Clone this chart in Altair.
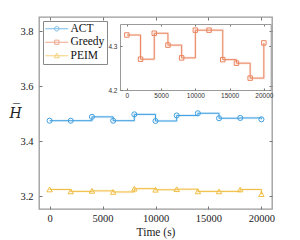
import altair as alt
import pandas as pd

# ---- data ----
times = [0, 2000, 4000, 6000, 8000, 10000, 12000, 14000, 16000, 18000, 20000]
act_values = [3.474, 3.474, 3.488, 3.474, 3.497, 3.473, 3.493, 3.501, 3.483, 3.484, 3.479]
greedy_values = [4.325, 4.270, 4.329, 4.302, 4.273, 4.336, 4.336, 4.269, 4.261, 4.227, 4.307]
peim_values = [3.224, 3.217, 3.219, 3.215, 3.227, 3.223, 3.225, 3.217, 3.217, 3.224, 3.207]
series_names = ["ACT", "Greedy", "PEIM"]
series_colors = ["#3F9FE0", "#E9845E", "#F0BE45"]
x_tick_values = [0, 5000, 10000, 15000, 20000]
y_tick_values = [3.2, 3.4, 3.6, 3.8]
inset_y_tick_values = [4.2, 4.3]


def frame(name, vals):
    return pd.DataFrame({"t": times, "v": vals, "s": name})


act_df = frame("ACT", act_values)
greedy_df = frame("Greedy", greedy_values)
peim_df = frame("PEIM", peim_values)
legend_df = pd.DataFrame({"s": series_names})

W, H = 233, 192
SERIF = "Liberation Serif, Times New Roman, serif"
SANS = "Liberation Sans, Arial, sans-serif"
FRAME = "#9a9a9a"
TICK = "#777777"
TXT = "#222222"

x_main = alt.Scale(domain=[-1000, 21000], nice=False, zero=False)
y_main = alt.Scale(domain=[3.153, 3.851], nice=False, zero=False)
x_inset = alt.Scale(domain=[-1000, 21000], range=[81, 231.7], nice=False, zero=False)
y_inset = alt.Scale(domain=[4.2, 4.35], range=[73, 7], nice=False, zero=False)


def tick_axis(orient, offset, values, size=3):
    return alt.Axis(orient=orient, offset=offset, values=values, labels=False,
                    domain=False, grid=False, ticks=True, tickSize=size,
                    tickColor=TICK, tickWidth=1, title=None)


# main axes
ax_x_labels = alt.Axis(orient="bottom", values=x_tick_values, format="d",
                       labelFont=SERIF, labelFontSize=10.5, labelColor=TXT,
                       labelPadding=4, labelFlush=False, ticks=False, domain=False,
                       grid=False, title="Time (s)", titleFont=SERIF,
                       titleFontSize=11.5, titleFontWeight="normal",
                       titleColor=TXT, titlePadding=3)
ax_y_labels = alt.Axis(orient="left", values=y_tick_values, format=".1f",
                       labelFont=SERIF, labelFontSize=10.5, labelColor=TXT,
                       labelPadding=6, labelFlush=False, ticks=False, domain=False,
                       grid=False, title="H\u0305", titleAngle=0, titleX=-24,
                       titleY=96, titleAlign="center", titleBaseline="middle",
                       titleFont="DejaVu Serif, serif", titleFontStyle="italic",
                       titleFontSize=14, titleFontWeight="normal", titleColor=TXT)

# custom legend symbols: short line with marker
p_line = "M-2.3,0H2.3"
sym_circle = p_line + "M-0.45,0A0.45,0.45,0,1,1,0.45,0A0.45,0.45,0,1,1,-0.45,0Z"
sym_square = p_line + "M-0.42,-0.42H0.42V0.42H-0.42Z"
sym_triangle = p_line + "M0,-0.52L0.52,0.4L-0.52,0.4Z"

legend = alt.Legend(orient="top-left", title=None, offset=4, padding=2,
                    strokeColor="#888888", fillColor="white",
                    labelFont=SERIF, labelFontSize=11.5, labelColor="#111111",
                    symbolSize=100, symbolStrokeWidth=1,
                    symbolFillColor="transparent", symbolOffset=6,
                    labelOffset=8, rowPadding=0.5)

color_scale = alt.Scale(domain=series_names, range=series_colors)
shape_scale = alt.Scale(domain=series_names, range=[sym_circle, sym_square, sym_triangle])


def series_layers(df, color, shape, xs, ys, xa=None, ya=None, xa2=None, ya2=None,
                  xa3=None, ya3=None, msize=26):
    shadow = alt.Chart(df).mark_line(interpolate="step-after", color=color,
                                     strokeWidth=2.6, opacity=0.16).encode(
        x=alt.X("t:Q", scale=xs, axis=xa3),
        y=alt.Y("v:Q", scale=ys, axis=ya3),
    )
    line = alt.Chart(df).mark_line(interpolate="step-after", color=color,
                                   strokeWidth=1).encode(
        x=alt.X("t:Q", scale=xs, axis=xa),
        y=alt.Y("v:Q", scale=ys, axis=ya),
    )
    pts = alt.Chart(df).mark_point(shape=shape, filled=False, color=color,
                                   strokeWidth=1, size=msize, opacity=1).encode(
        x=alt.X("t:Q", scale=xs, axis=xa2),
        y=alt.Y("v:Q", scale=ys, axis=ya2),
    )
    return [shadow, line, pts]


act_layers = series_layers(
    act_df, series_colors[0], "circle", x_main, y_main,
    xa=ax_x_labels, ya=ax_y_labels,
    xa2=tick_axis("top", -H, x_tick_values), ya2=tick_axis("right", -W, y_tick_values),
    xa3=tick_axis("bottom", -H, x_tick_values), ya3=tick_axis("left", -W, y_tick_values),
)
peim_layers = series_layers(peim_df, series_colors[2], "triangle-up", x_main, y_main,
                            msize=30)

legend_layer = alt.Chart(legend_df).mark_point(filled=False, strokeWidth=1).encode(
    color=alt.Color("s:N", scale=color_scale, legend=legend),
    shape=alt.Shape("s:N", scale=shape_scale, legend=legend),
).transform_filter("false")

main = alt.layer(*act_layers, *peim_layers, legend_layer).resolve_axis(
    x="independent", y="independent")

# inset axes
ix_labels = alt.Axis(orient="bottom", offset=-(H - 73), values=x_tick_values,
                     format="d", labelFont=SANS, labelFontSize=6.5, labelColor="#333333",
                     labelPadding=2, labelFlush=False, ticks=False, domain=True,
                     domainColor=FRAME, domainWidth=1, grid=False, title=None)
iy_labels = alt.Axis(orient="left", offset=-81, values=inset_y_tick_values,
                     format=".1f", labelFont=SANS, labelFontSize=6.5,
                     labelColor="#333333", labelPadding=3, labelFlush=False,
                     ticks=False, domain=True, domainColor=FRAME, domainWidth=1,
                     grid=False, title=None)


def frame_tick_axis(orient, offset, values):
    return alt.Axis(orient=orient, offset=offset, values=values, labels=False,
                    domain=True, domainColor=FRAME, domainWidth=1, grid=False,
                    ticks=True, tickSize=2, tickColor=TICK, title=None)


greedy_layers = series_layers(
    greedy_df, series_colors[1], "square", x_inset, y_inset,
    xa=ix_labels, ya=iy_labels,
    xa2=tick_axis("top", -73, x_tick_values, 2),
    ya2=tick_axis("right", -(W - 81), inset_y_tick_values, 2),
    xa3=frame_tick_axis("bottom", -(H - 7), x_tick_values),
    ya3=frame_tick_axis("left", -231.7, inset_y_tick_values),
    msize=20,
)
inset = alt.layer(*greedy_layers).resolve_axis(x="independent", y="independent")

chart = alt.layer(main, inset).resolve_scale(
    x="independent", y="independent"
).properties(
    width=W, height=H,
    padding={"left": 31, "top": 9, "right": 20, "bottom": 31},
    autosize=alt.AutoSizeParams(type="none"),
).configure_view(
    stroke=FRAME, strokeWidth=1.3
).configure_axis(grid=False)

chart.save("out.html", embed_options={"renderer": "svg", "actions": False})
